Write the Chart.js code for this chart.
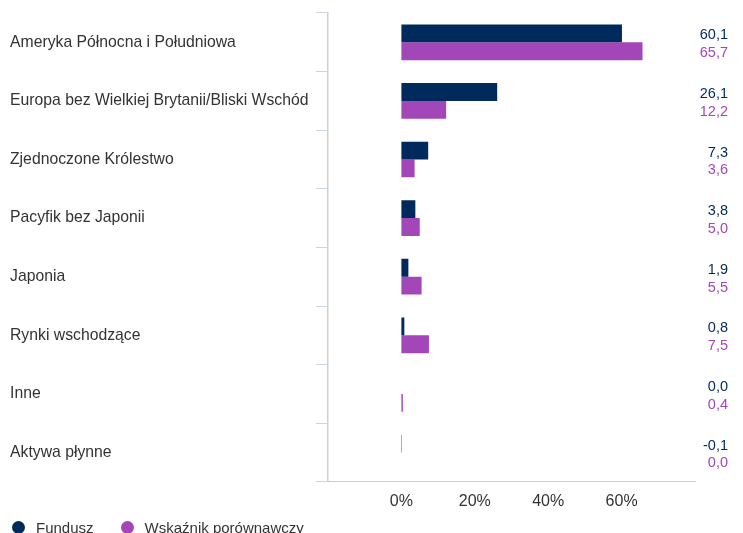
<!DOCTYPE html>
<html>
<head>
<meta charset="utf-8">
<script src="https://cdn.jsdelivr.net/npm/chart.js@4"></script>
<style>
  html, body { margin: 0; padding: 0; background: #fff; overflow: hidden; }
  #wrap { position: relative; width: 743px; height: 533px; }
  #legend { position: absolute; left: 12px; top: 519px; font: 15px "Liberation Sans", Arial, sans-serif; color: #333; white-space: nowrap; }
  #legend span.item { display: inline-block; margin-right: 27px; }
  #legend i { display: inline-block; width: 13px; height: 13px; border-radius: 50%; vertical-align: -1px; margin-right: 11px; }
</style>
</head>
<body>
<div id="wrap">
  <canvas id="mycanvas" width="743" height="533"></canvas>
  <div id="legend"></div>
</div>
<script>
var regiony = ['Ameryka Północna i Południowa', 'Europa bez Wielkiej Brytanii/Bliski Wschód', 'Zjednoczone Królestwo',
  'Pacyfik bez Japonii', 'Japonia', 'Rynki wschodzące', 'Inne', 'Aktywa płynne'];
var fundusz = [60.1, 26.1, 7.3, 3.8, 1.9, 0.8, 0.0, -0.1];
var wskaznik = [65.7, 12.2, 3.6, 5.0, 5.5, 7.5, 0.4, 0.0];
var xTicks = [0, 20, 40, 60];

var granat = '#002a5c';
var fiolet = '#a347b8';
var font = '"Liberation Sans", Arial, sans-serif';

function fmt(v) {
  return v.toFixed(1).replace('.', ',');
}

// wartosci po prawej stronie wykresu
var wartosci = {
  id: 'wartosci',
  afterDatasetsDraw: function(chart) {
    var ctx = chart.ctx;
    ctx.save();
    ctx.font = '14.5px ' + font;
    ctx.textAlign = 'right';
    ctx.textBaseline = 'middle';
    chart.data.datasets.forEach(function(ds, d) {
      var meta = chart.getDatasetMeta(d);
      ctx.fillStyle = ds.backgroundColor;
      meta.data.forEach(function(bar, i) {
        ctx.fillText(fmt(ds.data[i]), chart.chartArea.right + 33, bar.y + 2);
      });
    });
    ctx.restore();
  }
};

var chartdata = {
  labels: regiony,
  datasets: [
    { label: 'Fundusz', backgroundColor: granat, data: fundusz },
    { label: 'Wskaźnik porównawczy', backgroundColor: fiolet, data: wskaznik }
  ]
};

var ctx = document.getElementById('mycanvas');
var barGraph = new Chart(ctx, {
  type: 'bar',
  data: chartdata,
  plugins: [wartosci],
  options: {
    indexAxis: 'y',
    responsive: false,
    animation: false,
    categoryPercentage: 0.61,
    barPercentage: 1,
    layout: { padding: { left: 10, right: 48, top: 13, bottom: 12 } },
    plugins: {
      legend: { display: false },
      tooltip: { enabled: false }
    },
    scales: {
      x: {
        min: -20,
        max: 80,
        grid: { display: false, drawTicks: false },
        border: { display: true, color: '#cccccc', width: 1 },
        afterBuildTicks: function(scale) {
          scale.ticks = xTicks.map(function(v) { return { value: v }; });
        },
        ticks: {
          padding: 10,
          color: '#333',
          font: { family: font, size: 16 },
          callback: function(v) { return v + '%'; }
        }
      },
      y: {
        afterFit: function(scale) { scale.width = 318; },
        grid: { drawOnChartArea: false, drawTicks: true, tickLength: 12, color: '#ccd6eb', offset: true },
        border: { display: true, color: '#d0d0d0', width: 1.5 },
        ticks: {
          crossAlign: 'far',
          color: '#333',
          font: { family: font, size: 15.75 }
        }
      }
    }
  }
});

// legenda pod wykresem
var legend = document.getElementById('legend');
chartdata.datasets.forEach(function(ds) {
  var item = document.createElement('span');
  item.className = 'item';
  var dot = document.createElement('i');
  dot.style.background = ds.backgroundColor;
  item.appendChild(dot);
  item.appendChild(document.createTextNode(ds.label));
  legend.appendChild(item);
});
</script>
</body>
</html>
